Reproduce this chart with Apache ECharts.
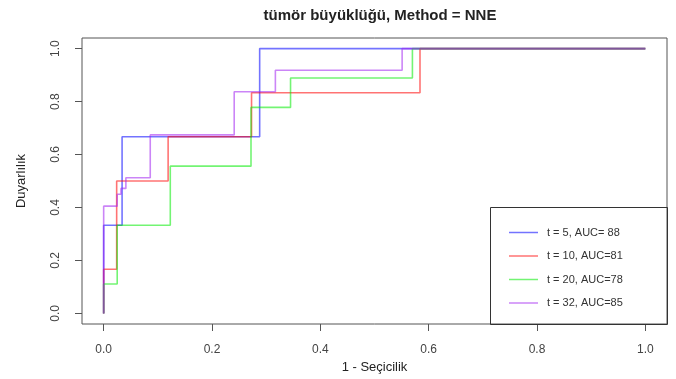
<!DOCTYPE html>
<html>
<head>
<meta charset="utf-8">
<script src="https://cdn.jsdelivr.net/npm/echarts@6/dist/echarts.min.js"></script>
<style>
  html, body { margin: 0; padding: 0; background: #fff; }
  #chart { width: 676px; height: 379px; }
</style>
</head>
<body>
<div id="chart"></div>
<script>
// ROC köşe noktaları (1 - seçicilik, duyarlılık)
var seriesNames = ['t = 5, AUC= 88', 't = 10, AUC=81', 't = 20, AUC=78', 't = 32, AUC=85']
var colors = ['rgba(0,0,255,0.55)', 'rgba(255,0,0,0.55)', 'rgba(0,235,0,0.55)', 'rgba(160,32,240,0.55)']

var t5X = [0, 0, 0.034, 0.034, 0.288, 0.288, 1]
var t5Y = [0, 0.333, 0.333, 0.667, 0.667, 1, 1]

var t10X = [0, 0, 0.024, 0.024, 0.119, 0.119, 0.273, 0.273, 0.584, 0.584, 1]
var t10Y = [0, 0.167, 0.167, 0.5, 0.5, 0.667, 0.667, 0.833, 0.833, 1, 1]

var t20X = [0, 0, 0.025, 0.025, 0.123, 0.123, 0.272, 0.272, 0.345, 0.345, 0.570, 0.570, 1]
var t20Y = [0, 0.111, 0.111, 0.333, 0.333, 0.556, 0.556, 0.778, 0.778, 0.889, 0.889, 1, 1]

var t32X = [0, 0, 0.025, 0.025, 0.032, 0.032, 0.041, 0.041, 0.086, 0.086, 0.241, 0.241, 0.317, 0.317, 0.551, 0.551, 1]
var t32Y = [0, 0.405, 0.405, 0.45, 0.45, 0.472, 0.472, 0.512, 0.512, 0.674, 0.674, 0.837, 0.837, 0.918, 0.918, 1, 1]

var tickValues = [0, 0.2, 0.4, 0.6, 0.8, 1.0]

function pairs (xs, ys) {
  return xs.map(function (x, i) { return [x, ys[i]] })
}

var allX = [t5X, t10X, t20X, t32X]
var allY = [t5Y, t10Y, t20Y, t32Y]

var font = 'Liberation Sans, Arial, sans-serif'
var chart = echarts.init(document.getElementById('chart'), null, { renderer: 'canvas' })

var option = {
  backgroundColor: '#fff',
  animation: false,
  title: {
    text: 'tümör büyüklüğü, Method = NNE',
    left: 375,
    textAlign: 'center',
    top: 3,
    textStyle: { fontFamily: font, fontSize: 15, fontWeight: 'bold', color: '#222' }
  },
  grid: {
    left: 82,
    right: 9,
    top: 38,
    bottom: 55,
    show: true,
    borderColor: '#555',
    borderWidth: 1,
    backgroundColor: 'transparent'
  },
  xAxis: {
    type: 'value',
    min: -0.04,
    max: 1.04,
    name: '1 - Seçicilik',
    nameLocation: 'middle',
    nameGap: 36,
    nameTextStyle: { fontFamily: font, fontSize: 13, color: '#222' },
    axisLine: { show: false, onZero: false },
    splitLine: { show: false },
    axisTick: { show: true, inside: false, length: 7, customValues: tickValues, lineStyle: { color: '#555' } },
    axisLabel: {
      customValues: tickValues,
      margin: 20,
      fontFamily: font,
      fontSize: 12,
      color: '#444',
      formatter: function (v) { return v.toFixed(1) }
    }
  },
  yAxis: {
    type: 'value',
    min: -0.04,
    max: 1.04,
    name: 'Duyarlılık',
    nameLocation: 'middle',
    nameRotate: 90,
    nameGap: 54,
    nameTextStyle: { fontFamily: font, fontSize: 13, color: '#222' },
    axisLine: { show: false, onZero: false },
    splitLine: { show: false },
    axisTick: { show: true, inside: false, length: 7, customValues: tickValues, lineStyle: { color: '#555' } },
    axisLabel: {
      customValues: tickValues,
      rotate: 90,
      margin: 20,
      fontFamily: font,
      fontSize: 12,
      color: '#444',
      formatter: function (v) { return v.toFixed(1) }
    }
  },
  legend: {
    orient: 'vertical',
    left: 504,
    top: 222,
    icon: 'rect',
    itemWidth: 29,
    itemHeight: 1.5,
    itemGap: 12.5,
    data: seriesNames,
    textStyle: { fontFamily: font, fontSize: 11, color: '#333', padding: [0, 0, 0, 4] }
  },
  graphic: [{
    type: 'rect',
    shape: { x: 490.5, y: 207.5, width: 177, height: 117 },
    style: { fill: 'none', stroke: '#333', lineWidth: 1 },
    z: 10
  }],
  series: seriesNames.map(function (name, i) {
    return {
      name: name,
      type: 'line',
      data: pairs(allX[i], allY[i]),
      symbol: 'none',
      itemStyle: { color: colors[i] },
      lineStyle: { color: colors[i], width: 1.6 },
      z: 2 + i
    }
  })
}

chart.setOption(option)
</script>
</body>
</html>
